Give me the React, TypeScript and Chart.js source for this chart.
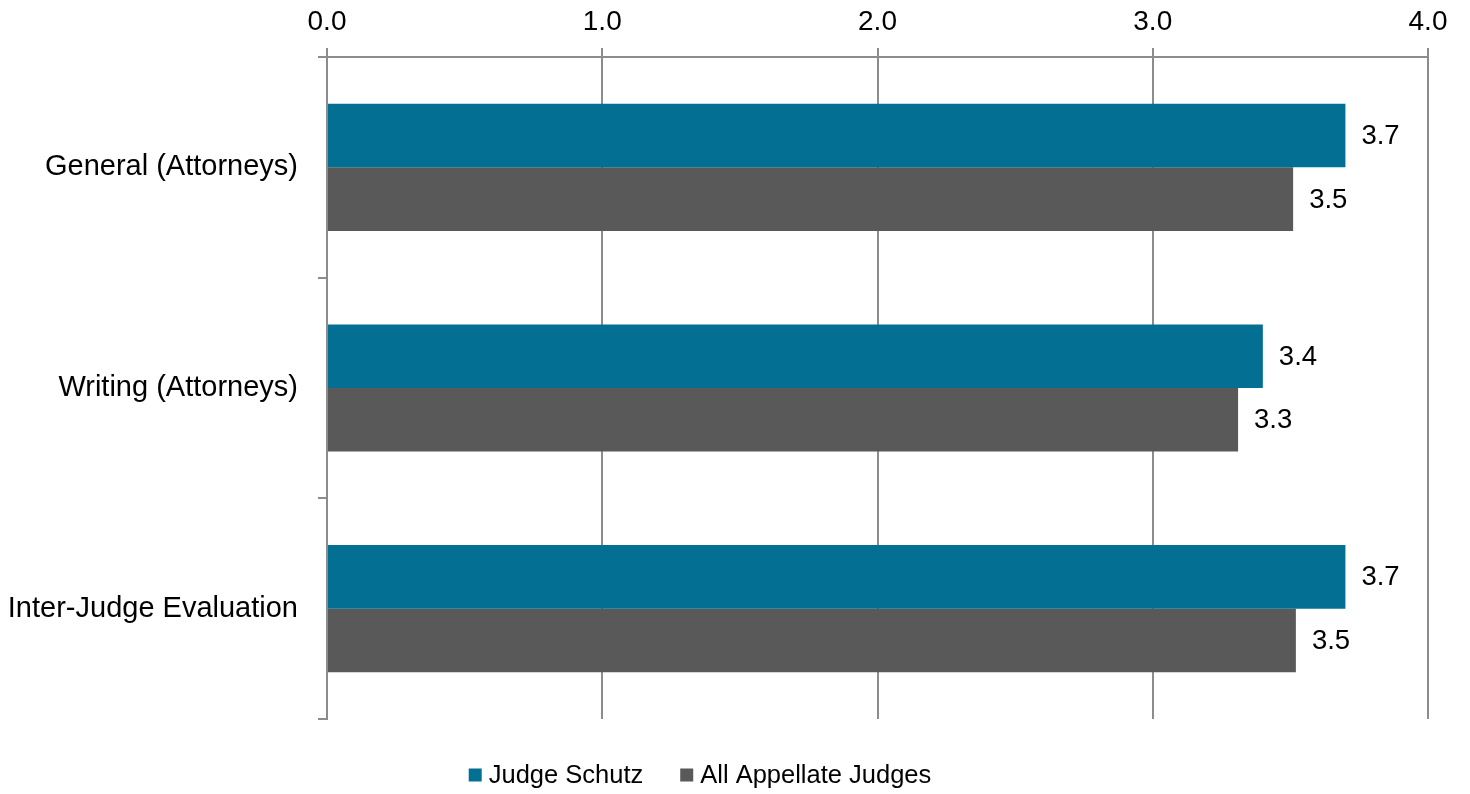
import React, { useEffect, useRef } from "react";
import { Chart, registerables } from "chart.js";

Chart.register(...registerables);

const categories = ["General (Attorneys)", "Writing (Attorneys)", "Inter-Judge Evaluation"];
const seriesNames = ["Judge Schutz", "All Appellate Judges"];
const judgeSchutz = [3.70, 3.40, 3.70];
const allAppellate = [3.51, 3.31, 3.52];
const xTicks = [0, 1, 2, 3, 4];
const colors = ["#036F93", "#595959"];

const FONT = "Arial, 'Liberation Sans', sans-serif";
const GRID = "#8c8c8c";

const dataLabelPlugin = {
  id: "dataLabels",
  afterDatasetsDraw(chart: any) {
    const ctx = chart.ctx;
    ctx.save();
    ctx.font = `27.5px ${FONT}`;
    ctx.fillStyle = "#000";
    ctx.textAlign = "left";
    ctx.textBaseline = "middle";
    chart.data.datasets.forEach((ds: any, i: number) => {
      const meta = chart.getDatasetMeta(i);
      meta.data.forEach((el: any, j: number) => {
        ctx.fillText(Number(ds.data[j]).toFixed(1), el.x + 16, el.y + 1);
      });
    });
    ctx.restore();
  },
};

const legendPlugin = {
  id: "customLegend",
  afterDraw(chart: any) {
    const ctx = chart.ctx;
    ctx.save();
    ctx.font = `25.5px ${FONT}`;
    ctx.textBaseline = "middle";
    ctx.textAlign = "left";
    const box = 13;
    const boxGap = 7;
    const itemGap = 37;
    const items = chart.data.datasets.map((ds: any) => ({
      text: ds.label,
      color: ds.backgroundColor,
      w: box + boxGap + ctx.measureText(ds.label).width,
    }));
    const total = items.reduce((s: number, it: any) => s + it.w, 0) + itemGap * (items.length - 1);
    const cx = 700;
    const cy = 775;
    let x = cx - total / 2;
    items.forEach((it: any) => {
      ctx.fillStyle = it.color;
      ctx.fillRect(x, cy - box / 2, box, box);
      ctx.fillStyle = "#000";
      ctx.fillText(it.text, x + box + boxGap, cy + 1);
      x += it.w + itemGap;
    });
    ctx.restore();
  },
};

export default function App() {
  const ref = useRef<HTMLCanvasElement | null>(null);
  useEffect(() => {
    if (!ref.current) return;
    const chart = new Chart(ref.current, {
      type: "bar",
      data: {
        labels: categories,
        datasets: [
          { label: seriesNames[0], data: judgeSchutz, backgroundColor: colors[0], categoryPercentage: 0.576, barPercentage: 1.0 },
          { label: seriesNames[1], data: allAppellate, backgroundColor: colors[1], categoryPercentage: 0.576, barPercentage: 1.0 },
        ],
      },
      options: {
        indexAxis: "y",
        responsive: false,
        animation: false,
        layout: { padding: { left: 0, right: 42, top: 0, bottom: 75 } },
        plugins: {
          legend: { display: false },
          tooltip: { enabled: false },
        },
        scales: {
          x: {
            position: "top",
            min: 0,
            max: 4,
            afterBuildTicks: (scale: any) => {
              scale.ticks = xTicks.map((v) => ({ value: v }));
            },
            afterFit: (scale: any) => {
              scale.height = 57;
            },
            ticks: {
              callback: (v: any) => Number(v).toFixed(1),
              font: { family: FONT, size: 28 },
              color: "#000",
              padding: 9,
              maxRotation: 0,
            },
            grid: { color: GRID, lineWidth: 2, tickLength: 9, drawTicks: true },
            border: { color: GRID, width: 2 },
          },
          y: {
            afterFit: (scale: any) => {
              scale.width = 327;
            },
            ticks: {
              font: { family: FONT, size: 29 },
              color: "#000",
              padding: 20,
            },
            grid: { color: GRID, lineWidth: 2, tickLength: 9, drawOnChartArea: false, drawTicks: true, offset: true },
            border: { color: GRID, width: 2 },
          },
        },
      },
      plugins: [dataLabelPlugin, legendPlugin],
    });
    return () => chart.destroy();
  }, []);
  return (
    <div style={{ position: "fixed", left: 0, top: 0, width: 1470, height: 794, background: "#fff" }}>
      <canvas ref={ref} width={1470} height={794} />
    </div>
  );
}
